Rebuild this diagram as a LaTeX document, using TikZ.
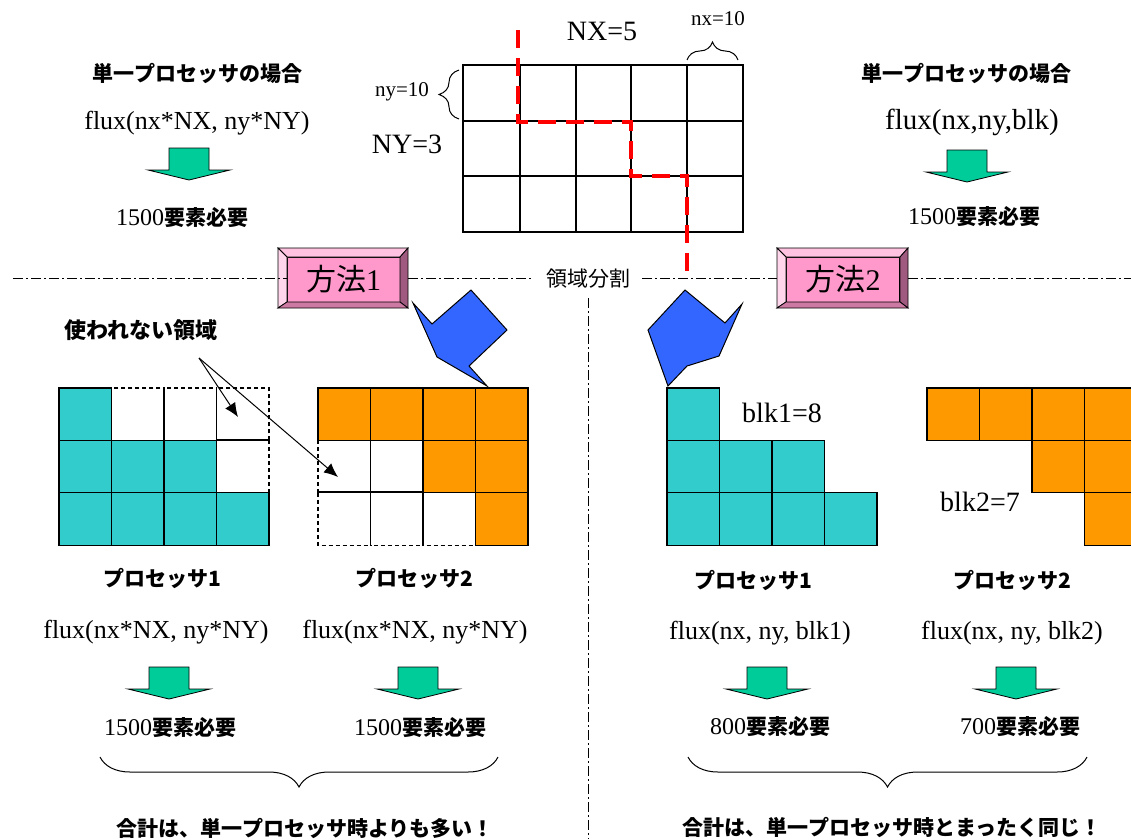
\documentclass[tikz,border=0pt]{standalone}
\usepackage{fontspec}
\setmainfont{Liberation Serif}
\newfontfamily\cjk{Noto Sans CJK JP}
\usetikzlibrary{decorations.pathreplacing,arrows.meta}
\definecolor{cyanc}{HTML}{33CCCC}
\definecolor{orangec}{HTML}{FF9900}
\definecolor{greenc}{HTML}{00CC99}
\definecolor{bluec}{HTML}{3366FF}
\definecolor{pinkface}{HTML}{FF99CC}
\definecolor{pinktop}{HTML}{FFC2E0}
\definecolor{pinkleft}{HTML}{FFD6EB}
\definecolor{pinkright}{HTML}{A05A80}
\definecolor{pinkbottom}{HTML}{CC7AA3}
\newcommand\gcell[5]{\draw[#1] ({#2+52.5*#4},{#3+52.4*#5}) rectangle ++(52.5,52.4);}
\newcommand\yoso{{\cjk\bfseries\fontsize{21}{25}\selectfont 要素必要}}
\tikzset{
  gl/.style={line width=1.2pt},
  cyancell/.style={fill=cyanc, draw=black, line width=1.2pt},
  orcell/.style={fill=orangec, draw=black, line width=1.2pt},
  emptycell/.style={draw=black, line width=1.2pt, dash pattern=on 4pt off 3pt},
  flux/.style={font=\fontsize{26}{30}\selectfont, inner sep=0pt},
  big/.style={font=\fontsize{28}{32}\selectfont, inner sep=0pt},
  small/.style={font=\fontsize{21}{25}\selectfont, inner sep=0pt},
  jlab/.style={font=\cjk\bfseries\fontsize{21}{25}\selectfont, inner sep=0pt},
  req/.style={font=\fontsize{24}{28}\selectfont, inner sep=0pt},
  dashdot/.style={line width=0.9pt, dash pattern=on 10pt off 3pt on 2pt off 3pt},
  mface/.style={fill=pinkface, draw=black, line width=0.8pt, minimum width=113pt, minimum height=45pt, inner sep=0pt, font=\fontsize{30}{34}\selectfont},
  bevel/.style={draw=black, line width=0.8pt},
  blockarrow/.style={fill=bluec, draw=black, line width=1pt, line join=miter},
  garrowstyle/.style={fill=greenc, draw=black, line width=0.8pt},
  garrow/.pic={\draw[garrowstyle] (-20,0) -- (20,0) -- (20,22) -- (41,22) -- (0,32) -- (-41,22) -- (-20,22) -- cycle;},
  bracestyle/.style={decorate, line width=1pt},
  redcut/.style={draw=red, line width=4pt, dash pattern=on 18pt off 10pt},
}
\begin{document}
\begin{tikzpicture}[x=1pt,y=-1pt]
\useasboundingbox (0,0) rectangle (1131,839);
\clip (0,0) rectangle (1131,839);

% ---------- top left: single processor ----------
\node[jlab] (tlLab) at (197,73) {単一プロセッサの場合};
\node[flux] (tlFlux) at (197,123) {flux(nx*NX, ny*NY)};
\pic at (189,148) {garrow};
\node[req] (tlReq) at (182,218) {1500\yoso};

% ---------- top right ----------
\node[jlab] (trLab) at (966,73) {単一プロセッサの場合};
\node[flux, font=\fontsize{29}{33}\selectfont] (trFlux) at (972,122) {flux(nx,ny,blk)};
\pic at (967,150) {garrow};
\node[req] (trReq) at (974,217) {1500\yoso};

% ---------- top grid ----------
\draw[gl] (463,65) rectangle (743,232);
\foreach \x in {520,576,631,687} {\draw[gl] (\x,65) -- (\x,232);}
\foreach \y in {121,176} {\draw[gl] (463,\y) -- (743,\y);}
\node[big] (NX) at (602,31) {NX=5};
\node[big] (NY) at (407,144) {NY=3};
\node[small] (nx) at (718,19) {nx=10};
\node[small] (ny) at (402,92) {ny=10};
\draw[bracestyle, decoration={brace, amplitude=18pt}] (687,60) -- (738,60);
\draw[bracestyle, decoration={brace, amplitude=20pt}] (459,119) -- (459,70);
\draw[redcut] (518,30) -- (518,122) -- (631,122) -- (631,176) -- (687,176) -- (687,276);

% ---------- separator lines ----------
\node[mface] (m1) at (343.5,279.5) {{\cjk 方法}1};
\node[mface] (m2) at (843,279.5) {{\cjk 方法}2};
\foreach \xa/\xb/\xc/\xd in {278/287/400/408, 777/786/900/908} {
  \draw[bevel, fill=pinktop] (\xa,248) -- (\xd,248) -- (\xc,257) -- (\xb,257) -- cycle;
  \draw[bevel, fill=pinkleft] (\xa,248) -- (\xb,257) -- (\xb,302) -- (\xa,308) -- cycle;
  \draw[bevel, fill=pinkright] (\xd,248) -- (\xd,308) -- (\xc,302) -- (\xc,257) -- cycle;
  \draw[bevel, fill=pinkbottom] (\xa,308) -- (\xd,308) -- (\xc,302) -- (\xb,302) -- cycle;
}
\node[font=\cjk\fontsize{21}{25}\selectfont, inner xsep=12pt, inner ysep=2pt] (split) at (588,279) {領域分割};
\coordinate (hl) at (13,278);
\coordinate (hr) at (1131,278);
\coordinate (vb) at (588,839);
\draw[dashdot] (hl) -- (m1.west |- hl);
\draw[dashdot] (m1.east |- hl) ++(8,0) -- (split.west |- hl);
\draw[dashdot] (split.east |- hl) -- (777,278);
\draw[dashdot] (m2.east |- hl) ++(8,0) -- (hr);
\draw[dashdot] (588,298) -- (vb);

% ---------- blue block arrows ----------
\draw[blockarrow] (413,303) -- (432,324) -- (471,290) -- (507,330) -- (469,366) -- (487,386) -- (437,357) -- cycle;
\draw[blockarrow] (685,290) -- (725,323) -- (742,304) -- (719,356) -- (687,366) -- (668,386) -- (648,330) -- cycle;

% ---------- method 1 grids ----------
% processor 1 (cyan)
\foreach \i/\j in {1/0,2/0,3/0,3/1} {\gcell{emptycell}{59}{388}{\i}{\j}}
\draw[gl] (164,388) -- (164,440);
\draw[gl] (216.5,388) -- (216.5,440);
\draw[gl] (216.5,440) -- (269,440);
\foreach \i/\j in {0/0,0/1,1/1,2/1,0/2,1/2,2/2,3/2} {\gcell{cyancell}{59}{388}{\i}{\j}}
% processor 2 (orange)
\foreach \i/\j in {0/1,1/1,0/2,1/2,2/2} {\gcell{emptycell}{318}{388}{\i}{\j}}
\draw[gl] (370.5,440) -- (370.5,545);
\draw[gl] (423,492) -- (423,545);
\draw[gl] (318,492) -- (475.5,492);
\foreach \i/\j in {0/0,1/0,2/0,3/0,2/1,3/1,3/2} {\gcell{orcell}{318}{388}{\i}{\j}}

\node[jlab, font=\cjk\bfseries\fontsize{22}{26}\selectfont] (unused) at (141,330) {使われない領域};
\coordinate (ua) at (199,358);
\coordinate (ut1) at (238,417);
\coordinate (ut2) at (338,477);
\draw[line width=1pt, -{Latex[length=14pt,width=12pt]}] (ua) -- (ut1);
\draw[line width=1pt, -{Latex[length=14pt,width=12pt]}] (ua) -- (ut2);

% ---------- method 2 grids ----------
\foreach \i/\j in {0/0,0/1,1/1,2/1,0/2,1/2,2/2,3/2} {\gcell{cyancell}{667}{388}{\i}{\j}}
\foreach \i/\j in {0/0,1/0,2/0,3/0,2/1,3/1,3/2} {\gcell{orcell}{927}{388}{\i}{\j}}
\node[big] (blk1) at (782,413) {blk1=8};
\node[big] (blk2) at (980,502) {blk2=7};

% ---------- bottom left ----------
\node[jlab] (p1a) at (162,578) {プロセッサ1};
\node[jlab] (p2a) at (414,578) {プロセッサ2};
\node[flux] (f1a) at (156,632) {flux(nx*NX, ny*NY)};
\node[flux] (f2a) at (415,632) {flux(nx*NX, ny*NY)};
\pic at (169,667) {garrow};
\pic at (418,667) {garrow};
\node[req] (r1a) at (170,728) {1500\yoso};
\node[req] (r2a) at (420,728) {1500\yoso};
\draw[bracestyle, decoration={brace, amplitude=30pt}] (498,757) -- (100,757);
\node[jlab] (sumA) at (305,828) {合計は、単一プロセッサ時よりも多い！};

% ---------- bottom right ----------
\node[jlab] (p1b) at (753,580) {プロセッサ1};
\node[jlab] (p2b) at (1012,580) {プロセッサ2};
\node[flux] (f1b) at (760,633) {flux(nx, ny, blk1)};
\node[flux] (f2b) at (1012,633) {flux(nx, ny, blk2)};
\pic at (767,667) {garrow};
\pic at (1016,667) {garrow};
\node[req] (r1b) at (770,727) {800\yoso};
\node[req] (r2b) at (1020,727) {700\yoso};
\draw[bracestyle, decoration={brace, amplitude=30pt}] (1087,757) -- (688,757);
\node[jlab] (sumB) at (892,827) {合計は、単一プロセッサ時とまったく同じ！};
\end{tikzpicture}
\end{document}
